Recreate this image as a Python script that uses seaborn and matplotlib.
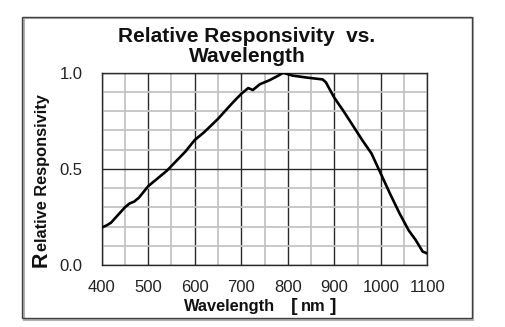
import matplotlib
matplotlib.use("Agg")
import matplotlib.pyplot as plt
from matplotlib.patches import Rectangle
from matplotlib.ticker import MultipleLocator, FixedLocator
from matplotlib.transforms import IdentityTransform
import seaborn as sns
import pandas as pd

# ---- data ----
wavelength = [400, 410, 420, 435, 450, 460, 470, 480, 500, 520, 540, 560, 580,
              600, 620, 650, 680, 700, 715, 725, 740, 760, 780, 790, 810, 840,
              875, 882, 900, 920, 940, 960, 980, 1000, 1020, 1040, 1060, 1075,
              1090, 1100]
responsivity = [0.195, 0.205, 0.22, 0.26, 0.30, 0.32, 0.33, 0.35, 0.41, 0.45,
                0.49, 0.54, 0.59, 0.65, 0.69, 0.76, 0.84, 0.89, 0.92, 0.91,
                0.94, 0.96, 0.985, 1.0, 0.985, 0.975, 0.965, 0.95, 0.87, 0.80,
                0.725, 0.65, 0.58, 0.475, 0.37, 0.27, 0.18, 0.13, 0.07, 0.06]
x_ticks = [400, 500, 600, 700, 800, 900, 1000, 1100]
y_ticks = [0.0, 0.5, 1.0]
y_tick_labels = ["0.0", "0.5", "1.0"]

df = pd.DataFrame({"Wavelength": wavelength, "Responsivity": responsivity})

sns.set_theme(style="white")
plt.rcParams["font.family"] = ["Liberation Sans", "DejaVu Sans"]

W, H = 506, 327
fig = plt.figure(figsize=(W / 100, H / 100), dpi=100)
fig.patch.set_facecolor("white")

# outer frame
fig.patches.append(Rectangle((24.5 / W, 1 - 319.5 / H), 448.5 / W, 301.5 / H,
                             transform=fig.transFigure, fill=False,
                             edgecolor="#b0b0b0", linewidth=1.5, zorder=0))
fig.patches.append(Rectangle((22.5 / W, 1 - 318.3 / H), 449.2 / W, 301.0 / H,
                             transform=fig.transFigure, fill=False,
                             edgecolor="#404040", linewidth=1.0, zorder=1))

ax = fig.add_axes([101.7 / W, 1 - 265 / H, (427.3 - 101.7) / W, (265 - 72.7) / H])
sns.lineplot(data=df, x="Wavelength", y="Responsivity", ax=ax, color="black",
             linewidth=1.9, zorder=5)

ax.set_xlim(400, 1100)
ax.set_ylim(0, 1.0)
ax.xaxis.set_major_locator(FixedLocator(x_ticks))
ax.xaxis.set_minor_locator(MultipleLocator(50))
ax.yaxis.set_major_locator(FixedLocator(y_ticks))
ax.yaxis.set_minor_locator(MultipleLocator(0.1))
ax.set_yticklabels(y_tick_labels)
ax.grid(which="minor", color="#c4c4c4", linewidth=1.3)
ax.grid(which="major", color="#2a2a2a", linewidth=1.0)
ax.set_axisbelow(True)
ax.tick_params(which="both", length=0)
ax.tick_params(axis="x", pad=11, labelsize=12, labelcolor="#222222")
ax.tick_params(axis="y", pad=14, labelsize=12, labelcolor="#222222")
ax.set_xlabel("")
ax.set_ylabel("")
for s in ax.spines.values():
    s.set_color("#2a2a2a")
    s.set_linewidth(1.0)
    s.set_visible(True)

renderer = fig.canvas.get_renderer()
ident = IdentityTransform()


def seq_text(pieces, x, y, rotation=0):
    """Place text pieces one after another (pixel coords, y from top)."""
    pos = 0.0
    for txt, size, gap in pieces:
        pos += gap
        if rotation == 0:
            t = fig.text(x + pos, H - y, txt, fontsize=size, fontweight="bold",
                         ha="left", va="baseline", transform=ident, color="#111111")
            pos += t.get_window_extent(renderer).width
        else:
            t = fig.text(x, H - y + pos, txt, fontsize=size, fontweight="bold",
                         ha="left", va="baseline", rotation=90,
                         rotation_mode="anchor", transform=ident, color="#111111")
            pos += t.get_window_extent(renderer).height


# title
fig.text(247 / W, 1 - 41.7 / H, "Relative Responsivity  vs.", fontsize=15,
         fontweight="bold", ha="center", va="baseline", color="#111111")
fig.text(247 / W, 1 - 62 / H, "Wavelength", fontsize=15,
         fontweight="bold", ha="center", va="baseline", color="#111111")

# x label
seq_text([("Wavelength", 11.8, 0), ("[", 14, 16), ("nm", 11.8, 3), ("]", 14, 5)],
         184, 310.7)
# y label
seq_text([("R", 15.5, 0), ("elative Responsivity", 11.8, 0.5)], 46.7, 267, rotation=90)

fig.savefig("out.png", dpi=100)
